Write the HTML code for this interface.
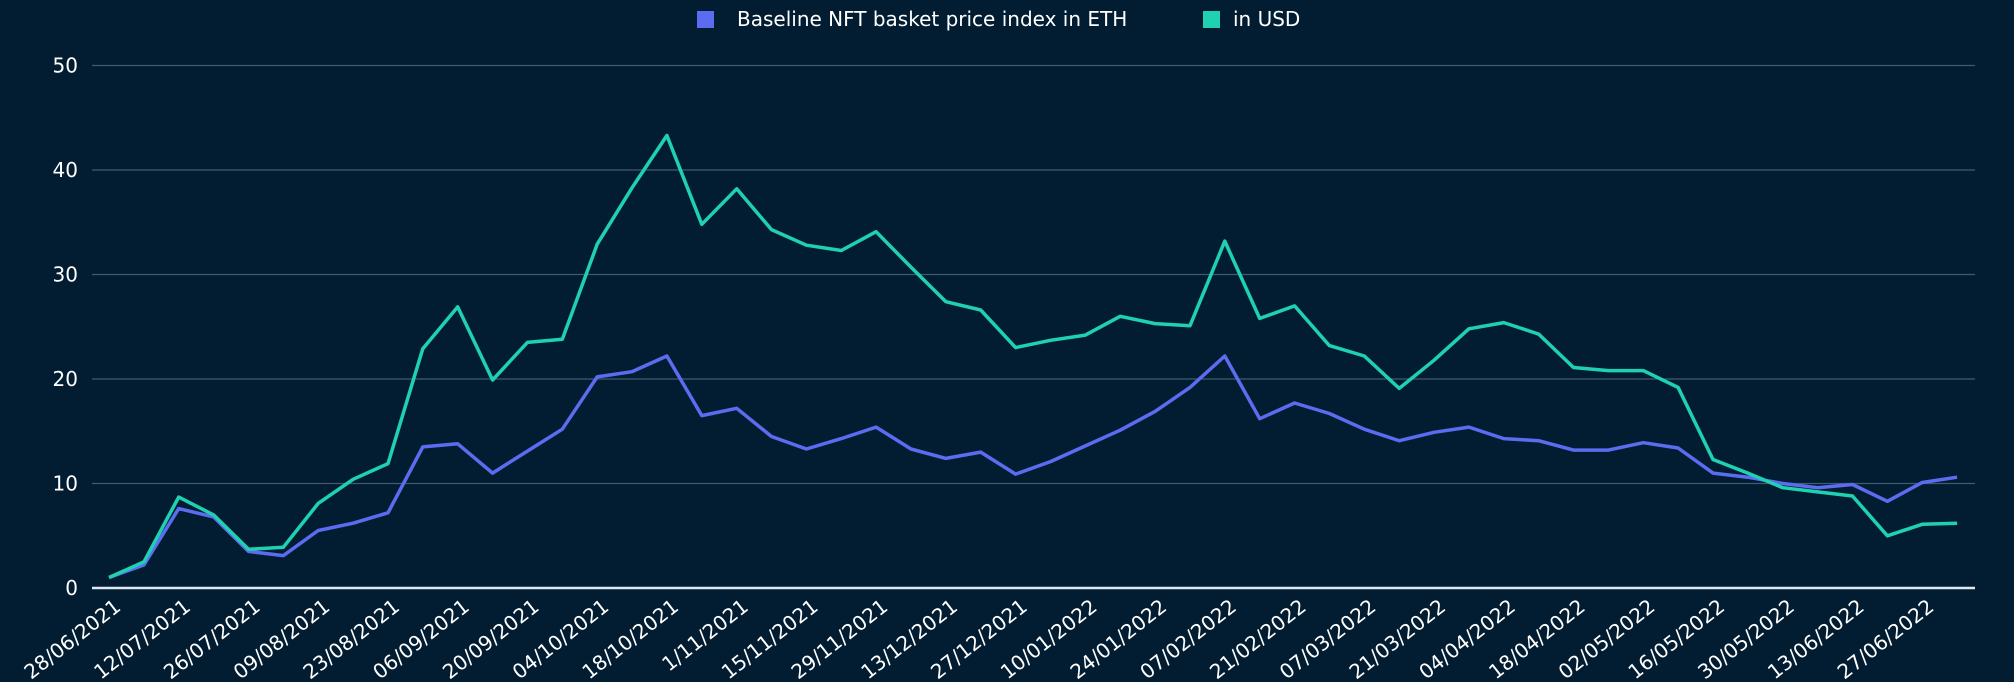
<!DOCTYPE html>
<html><head><meta charset="utf-8"><style>
html,body{margin:0;padding:0;background:#021d31;}
svg{display:block;font-family:"DejaVu Sans","Liberation Sans",sans-serif;}
</style></head><body>
<svg id="c" width="2014" height="682" xmlns="http://www.w3.org/2000/svg">
<rect width="2014" height="682" fill="#021d31"/>
<g id="grid"></g>
<g id="lines"></g>
<g id="labels"></g>
<rect x="697" y="11" width="17" height="17" fill="#5b6cf0"/>
<text x="737" y="26" fill="#ffffff" font-size="20">Baseline NFT basket price index in ETH</text>
<rect x="1203" y="11" width="17" height="17" fill="#1fd1b0"/>
<text x="1233" y="26" fill="#ffffff" font-size="20">in USD</text>
</svg>
<script>
var NS="http://www.w3.org/2000/svg";
var eth=[1.0,2.2,7.6,6.8,3.5,3.1,5.5,6.2,7.2,13.5,13.8,11.0,13.1,15.2,20.2,20.7,22.2,16.5,17.2,14.5,13.3,14.3,15.4,13.3,12.4,13.0,10.9,12.1,13.6,15.1,16.9,19.2,22.2,16.2,17.7,16.7,15.2,14.1,14.9,15.4,14.3,14.1,13.2,13.2,13.9,13.4,11.0,10.6,10.0,9.6,9.9,8.3,10.1,10.6];
var usd=[1.0,2.5,8.7,7.0,3.7,3.9,8.1,10.4,11.9,22.9,26.9,19.9,23.5,23.8,32.9,38.3,43.3,34.8,38.2,34.3,32.8,32.3,34.1,30.7,27.4,26.6,23.0,23.7,24.2,26.0,25.3,25.1,33.2,25.8,27.0,23.2,22.2,19.1,21.8,24.8,25.4,24.3,21.1,20.8,20.8,19.2,12.3,11.0,9.6,9.2,8.8,5.0,6.1,6.2];
var labs=["28/06/2021","12/07/2021","26/07/2021","09/08/2021","23/08/2021","06/09/2021","20/09/2021","04/10/2021","18/10/2021","1/11/2021","15/11/2021","29/11/2021","13/12/2021","27/12/2021","10/01/2022","24/01/2022","07/02/2022","21/02/2022","07/03/2022","21/03/2022","04/04/2022","18/04/2022","02/05/2022","16/05/2022","30/05/2022","13/06/2022","27/06/2022"];
var x0=109,dx=34.87,y0=588,py=10.45;
function X(i){return x0+i*dx;} function Y(v){return y0-v*py;}
function el(n,a,p,t){var e=document.createElementNS(NS,n);for(var k in a)e.setAttribute(k,a[k]);if(t)e.textContent=t;document.getElementById(p).appendChild(e);}
for(var v=0;v<=50;v+=10){
 el("line",{x1:92,x2:1975,y1:Y(v),y2:Y(v),stroke:v==0?"#dde8f0":"#3e5b6f","stroke-width":v==0?2.5:1.3},"grid");
 el("text",{x:78,y:Y(v)+7,fill:"#fff","font-size":20,"text-anchor":"end"},"labels",String(v));
}
function path(d,c){var s="";for(var i=0;i<d.length;i++)s+=(i?"L":"M")+X(i).toFixed(1)+","+Y(d[i]).toFixed(1);el("path",{d:s,fill:"none",stroke:c,"stroke-width":3.5,"stroke-linejoin":"round"},"lines");}
path(eth,"#5b6cf0");path(usd,"#1fd1b0");
for(var j=0;j<labs.length;j++){var x=X(2*j)+13,y=609;
 el("text",{x:x,y:y,fill:"#fff","font-size":20,"text-anchor":"end",transform:"rotate(-38 "+x+" "+y+")"},"labels",labs[j]);}
</script>
</body></html>
